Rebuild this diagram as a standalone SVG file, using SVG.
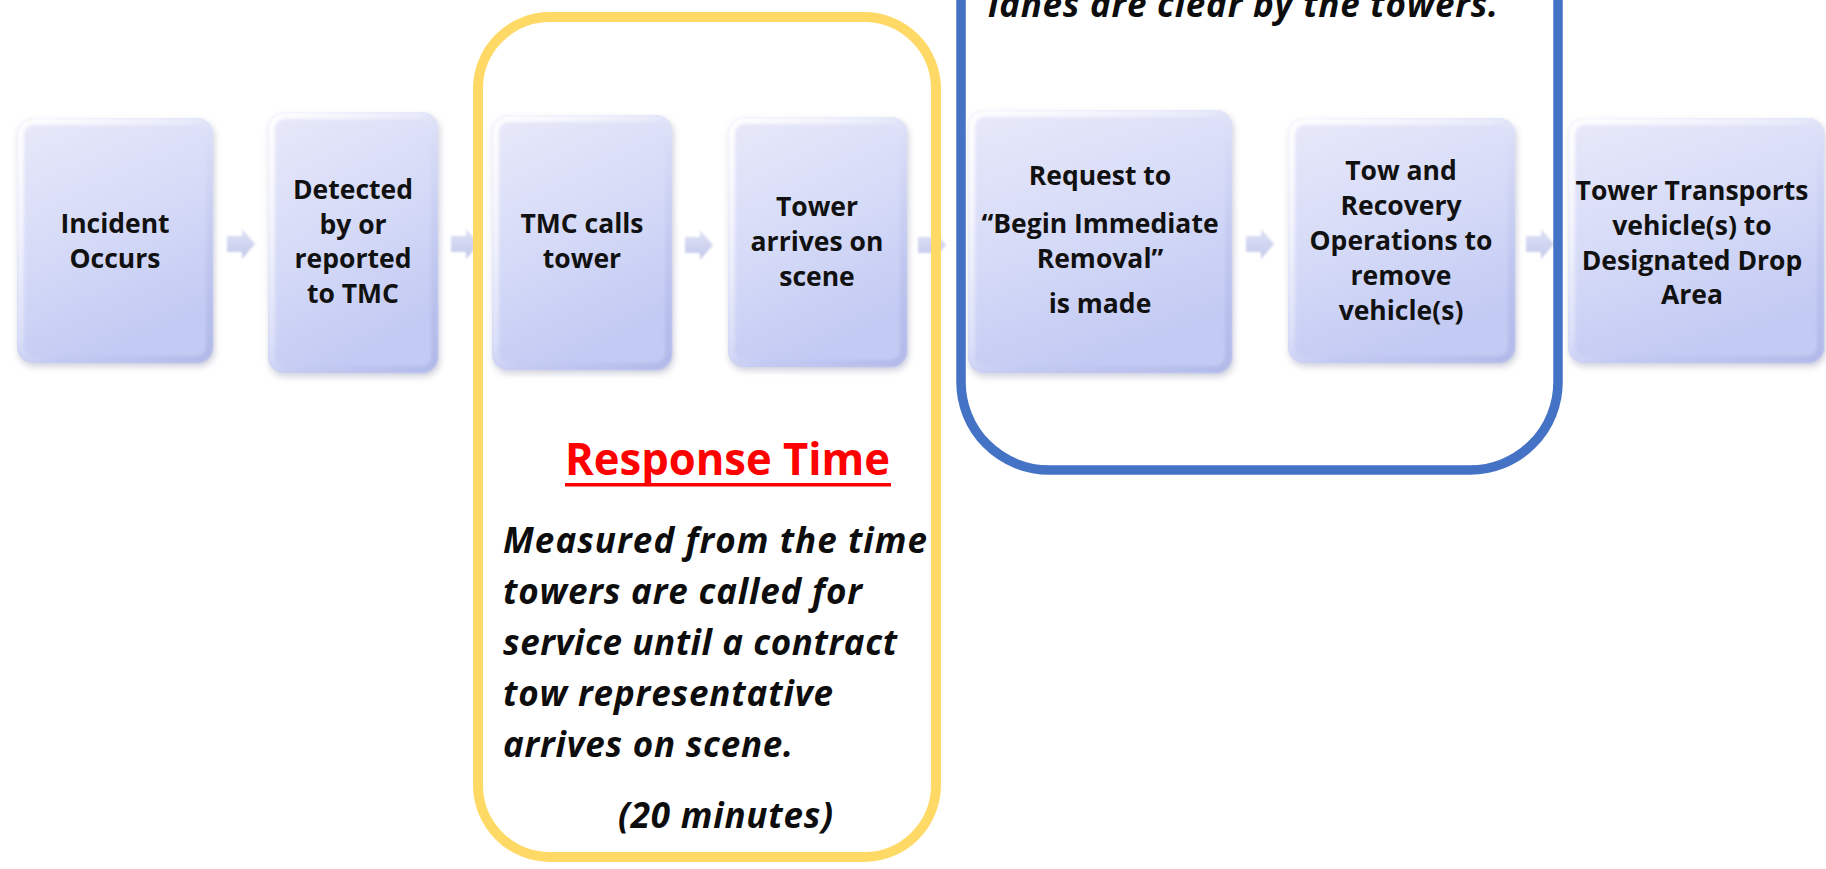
<svg xmlns="http://www.w3.org/2000/svg" xmlns:xlink="http://www.w3.org/1999/xlink" width="1826" height="869" viewBox="0 0 1826 869">
  <defs>
    <linearGradient id="boxFill" x1="0" y1="0" x2="0.35" y2="1">
      <stop offset="0" stop-color="#e8e9f9"/>
      <stop offset="0.55" stop-color="#d5daf7"/>
      <stop offset="1" stop-color="#c3caf3"/>
    </linearGradient>
    <linearGradient id="bevelStroke" x1="0" y1="0" x2="1" y2="1">
      <stop offset="0" stop-color="#ffffff" stop-opacity="0.95"/>
      <stop offset="0.45" stop-color="#ffffff" stop-opacity="0.3"/>
      <stop offset="0.6" stop-color="#b9c0ea" stop-opacity="0.15"/>
      <stop offset="1" stop-color="#aab2e4" stop-opacity="0.7"/>
    </linearGradient>
    <linearGradient id="arrowFill" x1="0" y1="0" x2="0" y2="1">
      <stop offset="0" stop-color="#dfe2f5"/>
      <stop offset="1" stop-color="#c2c8ec"/>
    </linearGradient>
    <filter id="soft" x="-10%" y="-10%" width="120%" height="120%">
      <feGaussianBlur stdDeviation="3"/>
    </filter>
    <filter id="bevelBlur" x="-5%" y="-5%" width="110%" height="110%">
      <feGaussianBlur stdDeviation="1.6"/>
    </filter>
    <filter id="arrowBlur" x="-20%" y="-20%" width="140%" height="140%">
      <feGaussianBlur stdDeviation="0.8"/>
    </filter>
    <path id="arrow" d="M0 7 H15 V0 L28 15 L15 30 V23 H0 Z"/>
    <style>
      .shadow { fill: #9a9cb4; opacity: 0.42; filter: url(#soft); }
      .body { fill: url(#boxFill); }
      .bevel { fill: none; stroke: url(#bevelStroke); stroke-width: 7; filter: url(#bevelBlur); }
      .label { font-family: "Open Sans", "Liberation Sans", sans-serif; font-weight: 700; font-size: 26.5px; fill: #111111; text-anchor: middle; }
      .arrow { fill: url(#arrowFill); filter: url(#arrowBlur); }
      .frame { fill: none; stroke-width: 10; }
      .yellow { stroke: #ffd966; }
      .blue { stroke: #4472c4; stroke-width: 9.5; }
      .note { font-family: "Open Sans", "Liberation Sans", sans-serif; font-weight: 700; font-style: italic; font-size: 35px; fill: #0d0d0d; }
      .title { font-family: "Open Sans", "Liberation Sans", sans-serif; font-weight: 700; font-size: 44px; fill: #ff0000; }
    </style>
  </defs>

  <rect width="1826" height="869" fill="#ffffff"/>

  <!-- flow connectors -->
  <g id="connectors">
    <use href="#arrow" class="arrow" x="227" y="229"/>
    <use href="#arrow" class="arrow" x="451" y="229"/>
    <use href="#arrow" class="arrow" x="685" y="230"/>
    <use href="#arrow" class="arrow" x="918" y="230"/>
    <use href="#arrow" class="arrow" x="1246" y="229"/>
    <use href="#arrow" class="arrow" x="1526" y="229"/>
  </g>

  <!-- process steps -->
  <g id="step-incident">
    <rect class="shadow" x="18" y="121" width="197" height="246" rx="16"/>
    <rect class="body" x="17" y="118" width="196" height="245" rx="16"/>
    <rect class="bevel" x="20.5" y="121.5" width="189" height="238" rx="13"/>
    <text class="label" x="115" y="233">Incident</text>
    <text class="label" x="115" y="268">Occurs</text>
  </g>

  <g id="step-detected">
    <rect class="shadow" x="269" y="115" width="171" height="262" rx="16"/>
    <rect class="body" x="268" y="112" width="170" height="261" rx="16"/>
    <rect class="bevel" x="271.5" y="115.5" width="163" height="254" rx="13"/>
    <text class="label" x="353" y="199">Detected</text>
    <text class="label" x="353" y="234">by or</text>
    <text class="label" x="353" y="268">reported</text>
    <text class="label" x="353" y="303">to TMC</text>
  </g>

  <g id="step-tmc-calls">
    <rect class="shadow" x="493" y="118" width="181" height="256" rx="16"/>
    <rect class="body" x="492" y="115" width="180" height="255" rx="16"/>
    <rect class="bevel" x="495.5" y="118.5" width="173" height="248" rx="13"/>
    <text class="label" x="582" y="233">TMC calls</text>
    <text class="label" x="582" y="268">tower</text>
  </g>

  <g id="step-tower-arrives">
    <rect class="shadow" x="729" y="120" width="180" height="251" rx="16"/>
    <rect class="body" x="728" y="117" width="179" height="250" rx="16"/>
    <rect class="bevel" x="731.5" y="120.5" width="172" height="243" rx="13"/>
    <text class="label" x="817" y="216">Tower</text>
    <text class="label" x="817" y="251">arrives on</text>
    <text class="label" x="817" y="286">scene</text>
  </g>

  <g id="step-request">
    <rect class="shadow" x="969" y="113" width="265" height="264" rx="16"/>
    <rect class="body" x="968" y="110" width="264" height="263" rx="16"/>
    <rect class="bevel" x="971.5" y="113.5" width="257" height="256" rx="13"/>
    <text class="label" x="1100" y="185">Request to</text>
    <text class="label" x="1100" y="233">“Begin Immediate</text>
    <text class="label" x="1100" y="268">Removal”</text>
    <text class="label" x="1100" y="313">is made</text>
  </g>

  <g id="step-recovery">
    <rect class="shadow" x="1289" y="121" width="228" height="246" rx="16"/>
    <rect class="body" x="1288" y="118" width="227" height="245" rx="16"/>
    <rect class="bevel" x="1291.5" y="121.5" width="220" height="238" rx="13"/>
    <text class="label" x="1401" y="180">Tow and</text>
    <text class="label" x="1401" y="215">Recovery</text>
    <text class="label" x="1401" y="250">Operations to</text>
    <text class="label" x="1401" y="285">remove</text>
    <text class="label" x="1401" y="320">vehicle(s)</text>
  </g>

  <g id="step-transport">
    <rect class="shadow" x="1569" y="121" width="257" height="246" rx="16"/>
    <rect class="body" x="1568" y="118" width="256" height="245" rx="16"/>
    <rect class="bevel" x="1571.5" y="121.5" width="249" height="238" rx="13"/>
    <text class="label" x="1692" y="200">Tower Transports</text>
    <text class="label" x="1692" y="235">vehicle(s) to</text>
    <text class="label" x="1692" y="270">Designated Drop</text>
    <text class="label" x="1692" y="304">Area</text>
  </g>

  <!-- response time bracket -->
  <g id="response-time">
    <rect class="frame yellow" x="478" y="17" width="458" height="840" rx="72"/>
    <text class="title" x="565" y="475" textLength="325" lengthAdjust="spacingAndGlyphs">Response Time</text>
    <rect x="565" y="483" width="326" height="3.5" fill="#ff0000"/>
    <text class="note" x="503" y="553" textLength="424" lengthAdjust="spacing">Measured from the time</text>
    <text class="note" x="503" y="604" textLength="359" lengthAdjust="spacing">towers are called for</text>
    <text class="note" x="503" y="655" textLength="394" lengthAdjust="spacing">service until a contract</text>
    <text class="note" x="503" y="706" textLength="330" lengthAdjust="spacing">tow representative</text>
    <text class="note" x="503" y="757" textLength="290" lengthAdjust="spacing">arrives on scene.</text>
    <text class="note" x="618" y="828" textLength="215" lengthAdjust="spacing">(20 minutes)</text>
  </g>

  <!-- clearance bracket -->
  <g id="clearance-time">
    <rect class="frame blue" x="961" y="-220" width="597" height="690" rx="88"/>
    <text class="note" x="988" y="17" textLength="510" lengthAdjust="spacing">lanes are clear by the towers.</text>
  </g>
</svg>
